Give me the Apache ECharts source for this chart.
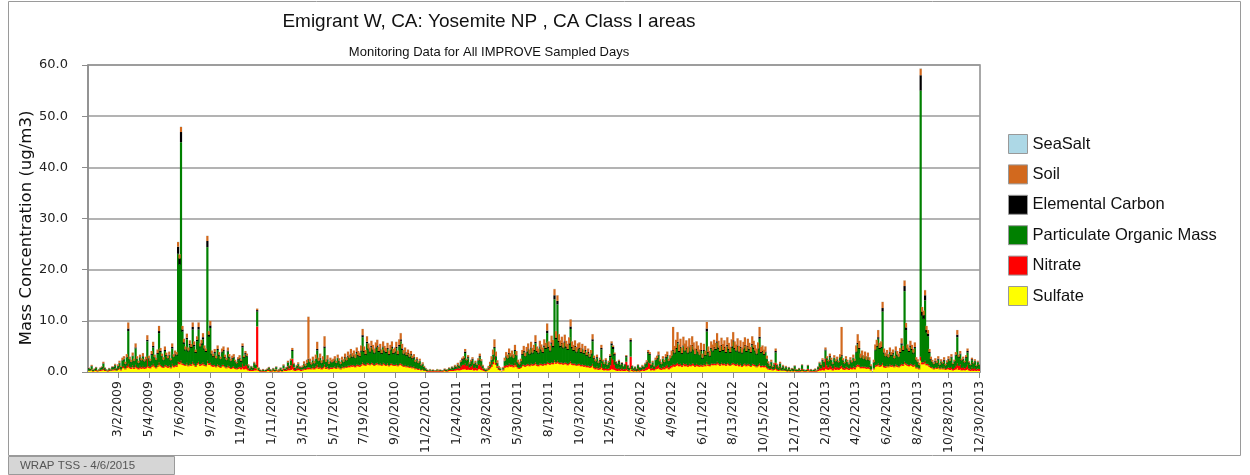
<!DOCTYPE html>
<html><head><meta charset="utf-8">
<script src="https://cdn.jsdelivr.net/npm/echarts@6/dist/echarts.min.js"></script>
<style>html,body{margin:0;padding:0;background:#fff}#c{width:1250px;height:475px}</style>
</head><body><div id="c"></div><script>
// IMPROVE samples every 3rd day, 1/1/2009 .. 12/30/2013
const tickLabels = ['3/2/2009','5/4/2009','7/6/2009','9/7/2009','11/9/2009','1/11/2010','3/15/2010','5/17/2010','7/19/2010','9/20/2010','11/22/2010','1/24/2011','3/28/2011','5/30/2011','8/1/2011','10/3/2011','12/5/2011','2/6/2012','4/9/2012','6/11/2012','8/13/2012','10/15/2012','12/17/2012','2/18/2013','4/22/2013','6/24/2013','8/26/2013','10/28/2013','12/30/2013'];
const yTicks = [0,10,20,30,40,50,60];

const sulfate = [
0.2,0.2,0.3,0.1,0.2,0.2,0.1,0.2,0.2,0.3,0.4,0.2,0.2,0.1,0.2,0.2,0.3,0.3,0.4,0.2,
0.4,0.6,0.3,0.7,0.8,0.5,0.8,1.0,0.7,0.6,0.9,0.6,0.9,0.7,0.5,0.8,0.6,0.8,0.6,0.7,1.0,
0.8,0.7,1.0,1.2,0.9,0.7,1.0,1.4,1.1,0.9,0.8,1.1,1.0,0.8,1.0,0.7,1.2,0.9,1.1,1.0,1.6,
1.5,1.8,1.4,1.3,1.2,1.5,1.1,1.3,1.2,1.6,1.3,1.0,1.4,1.6,1.2,1.3,1.5,1.2,1.1,1.7,1.4,
1.4,1.1,1.0,1.1,0.9,1.2,1.0,0.8,1.1,1.1,0.9,0.7,1.0,0.8,0.6,0.7,0.8,0.6,0.5,0.6,0.7,
0.5,0.7,0.5,0.6,0.5,0.3,0.2,0.2,0.2,0.3,0.3,0.9,0.2,0.1,0.1,0.1,0.1,0.1,0.2,0.2,0.1,
0.1,0.2,0.1,0.2,0.1,0.1,0.2,0.1,0.3,0.2,0.2,0.4,0.3,0.4,0.6,0.3,0.2,0.3,0.4,0.3,0.2,
0.3,0.5,0.4,0.6,0.5,0.6,0.5,0.7,0.5,0.7,0.9,0.6,0.8,0.5,0.7,1.0,0.6,0.7,0.5,0.6,0.6,
0.7,0.8,0.6,0.9,0.7,0.5,0.8,0.7,0.9,0.8,1.0,0.9,1.1,1.0,1.1,0.9,1.2,1.1,1.0,1.2,1.5,
1.3,1.2,1.5,1.4,1.3,1.5,1.4,1.2,1.4,1.5,1.3,1.4,1.2,1.5,1.3,1.2,1.4,1.1,1.3,1.4,1.2,
1.2,1.3,1.1,1.3,1.4,1.2,1.0,1.1,0.9,1.0,0.8,0.9,0.7,0.8,0.5,0.6,0.4,0.5,0.3,0.4,0.2,
0.2,0.1,0.1,0.1,0.1,0.1,0.1,0.1,0.1,0.1,0.1,0.1,0.1,0.2,0.1,0.1,0.2,0.2,0.2,0.2,0.3,
0.3,0.4,0.3,0.4,0.5,0.5,0.6,0.4,0.5,0.4,0.4,0.5,0.3,0.4,0.3,0.5,0.6,0.4,0.3,0.2,0.1,
0.2,0.4,0.7,1.0,1.5,2.4,1.4,0.8,0.4,0.3,0,0.3,0.8,1.0,0.9,1.2,1.0,1.1,0.9,1.3,1.0,
0.7,0.6,0.8,1.1,1.2,1.0,1.2,1.3,1.1,1.4,1.2,1.3,1.5,1.2,1.1,1.4,1.3,1.2,1.4,1.3,1.6,
1.5,1.4,1.6,1.5,1.9,1.6,1.8,1.6,1.5,1.6,1.4,1.6,1.5,1.3,1.5,1.7,1.4,1.3,1.4,1.2,1.3,
1.3,1.1,1.2,1.0,1.1,0.9,1.0,0.8,0.9,1.2,0.7,0.5,0.7,0.4,0.5,0.8,0.4,0.3,0.4,0.3,0.3,
0.4,0.6,0.5,0.4,0.3,0.2,0.3,0.2,0.3,0.2,0.2,0.4,0.2,0.1,0.6,0.2,0.1,0.2,0.1,0.2,0.1,
0.2,0.3,0.2,0.3,0.4,0.6,0.6,0.3,0.4,0.3,0.5,0.6,0.7,0.5,0.4,0.6,0.5,0.7,0.8,0.5,0.7,
0.9,1.1,1.0,1.2,1.3,1.1,1.2,1.0,1.3,1.1,1.2,1.0,1.2,1.1,1.3,1.2,1.0,1.2,1.1,1.0,1.2,
1.0,1.3,1.1,1.6,1.2,1.1,1.4,1.3,1.4,1.3,1.6,1.4,1.2,1.5,1.3,1.4,1.2,1.5,1.3,1.2,1.4,
1.5,1.3,1.2,1.4,1.1,1.3,1.0,1.2,1.4,1.1,1.3,1.2,1.0,1.3,1.2,1.1,0.9,1.1,1.3,0.9,1.0,
0.9,1.0,0.7,0.5,0.4,0.5,0.3,0.4,0.6,0.3,0.2,0.4,0.2,0.3,0.2,0.2,0.1,0.2,0.1,0.2,0.1,
0.2,0.1,0.1,0.1,0.1,0.2,0.1,0.1,0.1,0.2,0.1,0.1,0.1,0.1,0.1,0.1,0.2,0.3,0.3,0.4,0.3,
0.6,0.5,0.4,0.6,0.5,0.3,0.6,0.4,0.5,0.4,0.6,0.8,0.5,0.4,0.6,0.5,0.4,0.6,0.5,0.7,0.5,
0.9,1.1,1.0,0.7,0.8,0.7,0.8,0.6,0.7,0.6,0.3,0,0.5,1.0,1.1,1.3,1.0,1.1,1.4,0.9,0.8,
1.1,0.9,1.2,1.0,1.1,0.9,1.2,1.0,0.9,1.1,1.3,1.2,1.6,1.4,1.2,1.1,1.3,1.2,1.0,1.2,0.7,
0.7,0.5,2.2,1.5,1.5,1.7,1.3,1.3,1.0,0.8,0.7,0.5,0.7,0.6,0.8,0.5,0.7,0.5,0.7,0.4,0.6,
0.5,0.4,0.5,0.3,0.4,0.5,0.8,0.4,0.5,0.3,0.4,0.3,0.4,0.5,0.3,0.2,0.3,0.2,0.3,0.2,0.3,
0.2];

const nitrate = [
0.1,0.1,0.2,0.1,0.1,0.2,0.1,0.1,0.2,0.2,0.3,0.2,0.1,0.1,0.2,0.1,0.2,0.2,0.3,0.1,
0.2,0.3,0.2,0.3,0.4,0.2,0.4,0.6,0.3,0.3,0.4,0.3,0.5,0.3,0.3,0.4,0.3,0.4,0.3,0.3,1.6,
0.3,0.3,0.3,0.4,0.3,0.2,0.3,0.5,0.3,0.3,0.2,0.3,0.3,0.3,0.3,0.2,0.4,0.3,0.3,0.3,0.5,
0.4,0.5,0.3,0.3,0.2,0.3,0.2,0.3,0.3,0.4,0.3,0.2,0.3,0.4,0.3,0.3,0.4,0.3,0.2,0.5,0.3,
0.4,0.3,0.3,0.3,0.2,0.3,0.3,0.2,0.3,0.3,0.2,0.2,0.3,0.3,0.2,0.3,0.3,0.2,0.2,0.3,0.3,
0.4,0.9,0.6,0.8,0.7,0.4,0.2,0.3,0.2,0.5,0.4,8.0,0.2,0.1,0.1,0.1,0.1,0.1,0.2,0.3,0.1,
0.1,0.2,0.1,0.3,0.1,0.2,0.2,0.1,0.4,0.2,0.3,0.7,0.4,0.9,2.0,0.6,0.2,0.4,0.5,0.3,0.3,
0.2,0.3,0.2,0.3,0.4,0.3,0.2,0.4,0.3,0.4,0.6,0.3,0.4,0.3,0.3,0.5,0.3,0.4,0.2,0.3,0.3,
0.2,0.3,0.2,0.3,0.2,0.2,0.3,0.2,0.3,0.2,0.3,0.3,0.3,0.3,0.3,0.3,0.3,0.3,0.3,0.3,0.4,
0.3,0.2,0.3,0.3,0.2,0.3,0.3,0.2,0.3,0.3,0.2,0.3,0.2,0.3,0.3,0.2,0.3,0.2,0.3,0.3,0.2,
0.2,0.3,0.2,0.3,0.3,0.3,0.2,0.3,0.2,0.3,0.2,0.3,0.2,0.3,0.2,0.2,0.2,0.2,0.1,0.2,0.1,
0.2,0.1,0.1,0.2,0.1,0.1,0.1,0.1,0.2,0.1,0.1,0.1,0.1,0.2,0.1,0.2,0.2,0.2,0.3,0.2,0.3,
0.3,0.5,0.4,0.7,0.9,0.9,1.1,0.8,1.0,0.5,0.7,0.9,0.5,0.6,0.4,0.8,1.0,0.7,0.4,0.2,0.1,
0.1,0.2,0.3,0.4,0.5,0.6,0.4,0.3,0.2,0.1,0,0.2,0.4,0.4,0.4,0.5,0.4,0.4,0.4,0.5,0.4,
0.2,0.2,0.2,0.3,0.3,0.3,0.3,0.3,0.3,0.3,0.3,0.3,0.4,0.3,0.3,0.3,0.3,0.3,0.3,0.3,0.4,
0.3,0.3,0.3,0.3,0.4,0.3,0.4,0.3,0.3,0.3,0.3,0.3,0.3,0.3,0.3,0.4,0.3,0.3,0.3,0.2,0.3,
0.3,0.3,0.3,0.3,0.3,0.3,0.3,0.3,0.3,0.4,0.3,0.3,0.4,0.3,0.4,0.9,0.4,0.3,0.5,0.3,0.4,
0.9,2.2,1.9,1.0,0.5,0.4,0.6,0.3,0.5,0.3,0.4,1.6,0.3,0.2,2.4,0.3,0.2,0.3,0.1,0.4,0.2,
0.2,0.3,0.3,0.5,0.6,1.3,1.1,0.4,0.5,0.3,0.5,0.6,0.7,0.4,0.3,0.5,0.4,0.5,0.6,0.4,0.5,
0.4,0.5,0.4,0.4,0.5,0.4,0.4,0.3,0.4,0.4,0.4,0.3,0.4,0.3,0.4,0.4,0.3,0.4,0.3,0.3,0.3,
0.3,0.3,0.3,0.4,0.3,0.3,0.3,0.3,0.3,0.3,0.4,0.3,0.3,0.3,0.3,0.3,0.3,0.3,0.3,0.2,0.3,
0.3,0.3,0.3,0.3,0.3,0.3,0.2,0.3,0.3,0.3,0.3,0.3,0.2,0.3,0.3,0.3,0.2,0.3,0.4,0.3,0.3,
0.3,0.3,0.3,0.2,0.2,0.3,0.2,0.2,1.2,0.3,0.2,0.3,0.1,0.2,0.1,0.2,0.1,0.2,0.1,0.1,0.1,
0.3,0.1,0.1,0.2,0.1,0.4,0.1,0.1,0.1,0.4,0.1,0.1,0.1,0.1,0.2,0.1,0.3,0.6,0.4,0.8,0.6,
2.0,0.8,0.5,0.8,0.6,0.4,0.6,0.5,0.5,0.4,0.5,0.5,0.4,0.3,0.5,0.4,0.3,0.4,0.3,0.4,0.4,
0.4,0.4,0.4,0.3,0.3,0.3,0.3,0.3,0.3,0.3,0.2,0,0.2,0.3,0.3,0.4,0.3,0.3,0.4,0.3,0.3,
0.3,0.2,0.3,0.3,0.3,0.2,0.3,0.3,0.2,0.3,0.3,0.3,0.4,0.3,0.3,0.3,0.3,0.3,0.3,0.3,0.2,
0.2,0.2,0.8,0.4,0.4,0.5,0.3,0.3,0.3,0.2,0.2,0.2,0.2,0.2,0.3,0.2,0.2,0.2,0.3,0.2,0.2,
0.4,0.4,0.5,0.3,0.4,0.7,0.9,0.8,1.0,0.5,0.6,0.4,0.6,0.9,0.4,0.3,0.6,0.4,0.5,0.3,0.4,
0.4];

const pom = [
0.4,0.3,0.6,0.2,0.2,0.4,0.1,0.2,0.3,0.4,0.9,0.3,0.2,0.1,0.2,0.2,0.4,0.4,0.6,0.3,
0.5,0.8,0.5,1.2,1.3,0.8,1.6,6.4,1.4,1.0,1.8,1.2,3.2,1.5,0.9,1.6,1.3,1.8,1.1,1.4,3.4,
1.5,1.1,2.0,3.2,1.6,1.4,2.2,5.7,2.5,1.8,1.3,2.7,1.8,1.5,1.9,1.3,3.0,1.7,2.0,1.9,21.0,
19.1,42.6,6.2,3.9,2.8,4.6,2.7,3.6,3.2,6.3,3.4,2.5,4.3,6.3,3.3,3.7,4.5,2.9,2.6,22.2,5.2,
6.8,2.0,1.6,2.3,1.5,2.8,1.9,1.5,2.4,2.7,1.6,1.4,2.7,1.7,1.3,1.5,1.7,1.2,0.9,1.4,1.6,
1.1,3.2,1.6,2.0,1.8,0.5,0.2,0.5,0.3,0.9,0.6,2.9,0.3,0.2,0.1,0.2,0.1,0.2,0.1,0.3,0.2,
0.1,0.2,0.2,0.4,0.1,0.2,0.3,0.2,0.5,0.2,0.3,0.7,0.4,0.9,1.5,0.6,0.3,0.4,0.6,0.3,0.3,
0.4,0.7,0.5,0.8,1.5,1.0,0.7,1.1,0.8,1.4,2.7,1.2,1.4,0.9,1.3,3.2,1.0,1.3,0.8,1.2,0.9,
1.1,1.3,0.9,1.5,1.2,0.8,1.2,1.0,1.5,1.2,1.7,1.5,2.0,1.5,1.8,1.5,2.2,1.7,1.6,2.5,4.9,
2.3,1.9,3.8,2.7,2.3,3.0,2.5,2.2,2.9,3.1,2.4,2.7,2.1,3.0,2.4,2.3,2.8,2.0,2.6,3.0,2.1,
2.4,3.0,2.0,3.4,4.3,2.8,2.2,2.4,2.0,2.2,1.8,2.1,1.6,1.7,1.2,1.5,1.1,1.4,0.8,0.9,0.6,
0.2,0.2,0.1,0.2,0.1,0.1,0.1,0.1,0.2,0.1,0.1,0.1,0.1,0.1,0.2,0.2,0.3,0.2,0.4,0.3,0.5,
0.3,0.5,0.4,0.8,0.9,1.1,2.0,1.0,1.2,0.6,0.9,1.0,0.7,0.8,0.6,0.9,1.3,1.0,0.4,0.3,0.3,
0.2,0.2,0.4,0.9,1.3,1.7,1.2,0.6,0.2,0.3,0,0.2,0.9,1.6,1.3,1.8,1.5,1.8,1.4,2.3,1.8,
0.9,0.6,1.0,1.9,2.4,1.7,2.3,2.8,2.0,2.9,2.1,2.5,3.7,2.4,2.2,3.1,2.6,2.2,3.2,2.9,5.6,
2.8,2.3,3.6,3.0,11.9,4.5,11.0,3.9,3.0,3.5,2.9,3.8,2.9,2.7,3.5,6.3,2.9,2.5,3.1,2.4,2.8,
2.9,2.3,2.9,2.2,2.7,1.9,2.4,1.7,2.2,4.4,1.5,1.2,1.6,1.0,1.3,2.7,1.2,0.9,1.2,0.7,1.1,
1.6,2.4,2.1,1.8,0.9,0.9,1.1,0.8,0.8,0.5,0.8,0.9,0.7,0.4,2.9,0.6,0.3,0.4,0.3,0.7,0.5,
0.3,0.5,0.4,0.7,0.9,1.8,1.6,0.6,0.9,0.4,1.3,1.3,1.8,1.1,0.8,1.4,1.0,1.5,1.7,1.2,1.4,
1.8,2.5,2.2,2.9,3.8,2.4,3.1,2.2,3.3,2.5,2.9,2.3,3.2,2.4,3.3,2.6,2.1,2.7,2.4,2.0,2.6,
1.3,2.5,1.7,5.9,2.2,1.6,2.8,2.4,2.9,2.7,3.7,2.8,2.4,3.2,2.5,2.9,2.2,3.2,2.7,2.3,3.0,
4.1,2.8,2.5,3.2,2.4,3.0,2.4,2.9,3.3,2.5,3.2,2.8,2.5,3.6,3.0,2.6,2.3,3.0,4.8,2.5,2.6,
2.1,2.5,1.5,0.9,0.5,1.1,0.4,0.8,2.0,0.7,0.4,0.9,0.4,0.6,0.4,0.5,0.3,0.4,0.2,0.3,0.3,
0.6,0.3,0.2,0.3,0.2,0.7,0.3,0.1,0.2,0.6,0.1,0.2,0.1,0.2,0.2,0.1,0.4,0.8,0.6,1.0,1.0,
1.6,1.3,1.1,1.5,1.2,0.8,1.5,1.1,1.4,1.0,1.7,1.8,1.3,0.9,1.4,1.0,0.7,1.3,1.0,1.6,1.2,
2.5,3.9,3.1,1.7,2.1,1.5,1.9,1.4,1.9,1.3,0.6,0,1.1,2.9,3.5,4.8,3.2,3.3,10.0,2.4,1.9,
2.0,1.7,2.3,1.8,2.1,1.5,2.5,1.9,1.8,2.3,3.7,2.6,13.8,6.5,2.9,2.5,3.3,2.8,2.3,3.2,1.4,
1.0,0.6,52.0,9.1,8.5,11.8,6.1,5.4,2.4,1.3,1.0,0.8,1.1,0.9,1.3,0.6,1.1,0.9,1.2,0.6,1.0,
1.5,1.3,1.8,0.9,1.2,2.0,5.1,1.6,1.9,1.4,1.4,1.1,1.7,2.4,1.1,0.8,1.4,1.0,1.3,0.6,1.2,
0.7];

const elementalCarbon = [
0.1,0.0,0.1,0.0,0.1,0.1,0.0,0.0,0.1,0.1,0.1,0.1,0.0,0.0,0.1,0.0,0.1,0.1,0.1,0.1,
0.1,0.1,0.0,0.1,0.1,0.1,0.1,0.5,0.1,0.1,0.1,0.1,0.2,0.1,0.1,0.1,0.1,0.1,0.1,0.1,0.3,
0.1,0.1,0.2,0.3,0.1,0.1,0.2,0.4,0.2,0.1,0.1,0.2,0.2,0.1,0.2,0.1,0.3,0.1,0.2,0.2,1.4,
1.2,2.0,0.4,0.3,0.2,0.3,0.2,0.3,0.2,0.5,0.3,0.2,0.3,0.5,0.2,0.3,0.4,0.2,0.2,1.2,0.4,
0.5,0.2,0.2,0.2,0.1,0.2,0.2,0.1,0.2,0.2,0.2,0.1,0.2,0.2,0.1,0.2,0.2,0.1,0.1,0.2,0.2,
0.2,0.3,0.2,0.3,0.2,0.1,0.1,0.1,0.1,0.1,0.1,0.3,0.1,0.0,0.0,0.1,0.0,0.0,0.1,0.1,0.1,
0.0,0.1,0.0,0.1,0.0,0.0,0.1,0.0,0.1,0.0,0.1,0.1,0.1,0.1,0.2,0.1,0.1,0.1,0.1,0.1,0.1,
0.1,0.1,0.1,0.1,0.2,0.1,0.1,0.1,0.1,0.1,0.3,0.1,0.2,0.1,0.1,0.3,0.1,0.1,0.1,0.1,0.1,
0.1,0.1,0.1,0.1,0.1,0.1,0.1,0.1,0.2,0.1,0.2,0.1,0.2,0.2,0.2,0.1,0.2,0.2,0.2,0.2,0.4,
0.2,0.2,0.3,0.2,0.2,0.3,0.2,0.2,0.2,0.3,0.2,0.2,0.2,0.2,0.2,0.2,0.2,0.2,0.2,0.3,0.2,
0.2,0.3,0.2,0.3,0.4,0.3,0.2,0.2,0.2,0.2,0.2,0.2,0.2,0.2,0.1,0.2,0.1,0.1,0.1,0.1,0.1,
0.1,0.0,0.0,0.0,0.0,0.1,0.0,0.0,0.0,0.0,0.1,0.0,0.0,0.1,0.0,0.0,0.1,0.0,0.1,0.1,0.1,
0.1,0.1,0.1,0.1,0.2,0.2,0.3,0.1,0.2,0.1,0.1,0.2,0.1,0.1,0.1,0.1,0.2,0.1,0.1,0.0,0.0,
0.0,0.1,0.1,0.1,0.1,0.2,0.1,0.1,0.1,0.0,0,0.1,0.1,0.1,0.1,0.2,0.1,0.1,0.1,0.2,0.1,
0.1,0.1,0.1,0.2,0.2,0.1,0.2,0.2,0.2,0.2,0.2,0.2,0.3,0.2,0.2,0.2,0.2,0.2,0.3,0.2,0.5,
0.3,0.2,0.3,0.3,0.8,0.3,0.7,0.3,0.3,0.3,0.2,0.3,0.3,0.2,0.3,0.5,0.3,0.2,0.3,0.2,0.2,
0.3,0.2,0.2,0.2,0.2,0.2,0.2,0.2,0.2,0.4,0.2,0.1,0.2,0.1,0.2,0.3,0.1,0.1,0.2,0.1,0.1,
0.3,0.4,0.4,0.3,0.2,0.1,0.2,0.1,0.2,0.1,0.1,0.2,0.1,0.1,0.4,0.1,0.1,0.1,0.1,0.1,0.1,
0.1,0.1,0.1,0.1,0.1,0.2,0.2,0.1,0.1,0.1,0.1,0.2,0.2,0.1,0.1,0.1,0.1,0.2,0.2,0.1,0.1,
0.1,0.2,0.2,0.2,0.3,0.2,0.2,0.2,0.2,0.2,0.2,0.2,0.2,0.2,0.3,0.2,0.1,0.2,0.2,0.1,0.2,
0.2,0.2,0.2,0.6,0.2,0.2,0.2,0.2,0.3,0.2,0.3,0.3,0.2,0.3,0.2,0.3,0.2,0.3,0.2,0.2,0.3,
0.3,0.3,0.2,0.3,0.2,0.3,0.2,0.2,0.3,0.2,0.3,0.2,0.2,0.3,0.3,0.2,0.2,0.2,0.4,0.2,0.2,
0.2,0.2,0.1,0.1,0.1,0.1,0.1,0.1,0.3,0.1,0.1,0.1,0.1,0.1,0.0,0.1,0.0,0.1,0.0,0.1,0.1,
0.1,0.0,0.0,0.1,0.0,0.1,0.0,0.0,0.0,0.1,0.0,0.1,0.0,0.0,0.1,0.0,0.1,0.1,0.1,0.2,0.1,
0.2,0.1,0.1,0.2,0.1,0.1,0.1,0.1,0.1,0.1,0.1,0.2,0.1,0.1,0.1,0.1,0.1,0.1,0.1,0.1,0.1,
0.2,0.3,0.2,0.1,0.1,0.1,0.1,0.1,0.1,0.1,0.1,0,0.1,0.2,0.2,0.3,0.2,0.2,0.7,0.2,0.1,
0.2,0.1,0.2,0.2,0.2,0.1,0.2,0.2,0.1,0.2,0.3,0.2,1.0,0.5,0.2,0.2,0.3,0.2,0.2,0.2,0.1,
0.1,0.1,3.0,0.8,0.7,1.0,0.5,0.5,0.2,0.2,0.1,0.1,0.2,0.1,0.2,0.1,0.1,0.1,0.2,0.1,0.1,
0.2,0.1,0.2,0.1,0.1,0.2,0.5,0.2,0.2,0.1,0.2,0.1,0.2,0.3,0.1,0.1,0.2,0.1,0.1,0.1,0.1,
0.1];

const soil = [
0.1,0.1,0.2,0.1,0.1,0.1,0.1,0.1,0.1,0.1,0.3,0.1,0.1,0.1,0.1,0.1,0.1,0.1,0.2,0.1,
0.3,0.4,0.2,0.5,0.5,0.4,0.6,1.2,0.5,0.4,0.6,0.4,0.8,0.5,0.4,0.5,0.4,0.6,0.4,0.5,0.9,
0.5,0.4,0.6,0.8,0.5,0.4,0.7,1.0,0.6,0.5,0.5,0.7,0.5,0.5,0.6,0.4,0.7,0.5,0.6,0.5,0.9,
0.8,1.0,0.7,0.7,0.6,0.8,0.6,0.7,0.6,0.9,0.7,0.5,0.7,0.9,0.6,0.7,0.8,0.6,0.5,1.0,0.7,
0.9,0.6,0.5,0.6,0.5,0.7,0.5,0.4,0.6,0.7,0.5,0.4,0.6,0.5,0.4,0.5,0.5,0.3,0.3,0.4,0.5,
0.3,0.5,0.3,0.4,0.4,0.2,0.1,0.1,0.1,0.2,0.2,0.3,0.1,0.1,0.1,0.1,0.0,0.1,0.1,0.1,0.1,
0.1,0.1,0.1,0.1,0.1,0.1,0.1,0.1,0.2,0.1,0.1,0.3,0.1,0.3,0.4,0.2,0.1,0.2,0.3,0.2,0.1,
0.3,0.5,0.4,0.6,8.2,0.6,0.4,0.7,0.5,0.8,1.4,0.6,0.8,0.5,0.7,2.0,0.5,0.8,0.4,0.6,0.5,
0.5,0.6,0.4,0.6,0.5,0.4,0.6,0.5,0.7,0.6,0.8,0.6,0.9,0.7,0.8,0.7,0.9,0.8,0.7,1.0,1.2,
0.9,0.8,1.1,1.0,0.8,1.0,0.9,0.8,1.0,1.1,0.8,0.9,0.7,1.0,0.9,0.8,1.0,0.7,0.9,1.0,0.8,
0.8,1.0,0.7,1.1,1.2,0.9,0.7,0.8,0.6,0.7,0.6,0.6,0.5,0.5,0.4,0.4,0.3,0.4,0.2,0.3,0.2,
0.1,0.1,0.1,0.1,0.0,0.1,0.1,0.0,0.1,0.1,0.1,0.0,0.1,0.1,0.1,0.1,0.1,0.1,0.1,0.1,0.2,
0.2,0.3,0.2,0.3,0.3,0.4,0.5,0.3,0.4,0.3,0.3,0.3,0.2,0.3,0.2,0.4,0.5,0.3,0.2,0.1,0.1,
0.2,0.3,0.5,0.7,1.0,1.5,0.9,0.5,0.3,0.2,0,0.2,0.6,0.8,0.7,0.9,0.7,0.8,0.7,1.0,0.8,
0.5,0.4,0.5,0.8,1.0,0.7,0.9,1.0,0.8,1.1,0.9,1.0,1.3,0.9,0.8,1.1,1.0,0.9,1.2,1.0,1.4,
1.1,1.0,1.3,1.2,1.2,1.3,1.1,1.3,1.1,1.2,1.0,1.3,1.1,1.0,1.2,1.4,1.1,1.0,1.1,0.9,1.0,
1.0,0.8,0.9,0.7,0.8,0.6,0.7,0.6,0.7,1.0,0.5,0.4,0.5,0.3,0.4,0.6,0.3,0.3,0.4,0.2,0.3,
0.3,0.4,0.3,0.3,0.2,0.1,0.2,0.1,0.1,0.1,0.1,0.2,0.1,0.1,0.3,0.1,0.1,0.1,0.1,0.1,0.1,
0.1,0.2,0.1,0.2,0.3,0.4,0.4,0.2,0.3,0.2,0.4,0.5,0.6,0.4,0.3,0.5,0.4,0.6,0.7,0.4,0.6,
1.0,4.5,1.3,1.6,1.9,1.3,1.6,1.1,1.7,1.4,1.5,1.2,1.6,1.3,1.7,1.4,1.1,1.5,1.2,1.0,1.4,
0.8,1.2,0.9,1.3,1.1,0.9,1.3,1.2,1.4,1.2,1.6,1.3,1.1,1.4,1.2,1.3,1.1,1.5,1.2,1.0,1.4,
1.6,1.3,1.2,1.4,1.1,1.3,1.0,1.3,1.5,1.1,1.4,1.2,1.0,1.5,1.3,1.1,1.0,1.2,1.9,1.0,1.1,
0.9,1.0,0.6,0.4,0.3,0.4,0.2,0.3,0.5,0.2,0.2,0.3,0.1,0.2,0.1,0.2,0.1,0.1,0.1,0.1,0.1,
0.1,0.1,0.1,0.1,0.0,0.1,0.1,0.0,0.1,0.1,0.1,0.1,0.0,0.1,0.1,0.1,0.1,0.2,0.2,0.3,0.2,
0.4,0.4,0.3,0.5,0.4,0.3,0.5,0.4,0.5,0.3,0.6,5.5,0.4,0.3,0.5,0.4,0.3,0.5,0.4,0.6,0.4,
1.2,1.7,1.4,0.8,0.9,0.7,0.9,0.7,0.8,0.6,0.3,0,0.5,1.0,1.2,1.4,1.0,1.1,1.2,0.8,0.7,
0.7,0.6,0.8,0.6,0.7,0.5,0.8,0.7,0.6,0.8,1.0,0.8,1.1,0.9,0.8,0.7,0.9,0.8,0.7,0.9,0.5,
0.5,0.4,1.3,0.9,0.9,1.0,0.8,0.7,0.6,0.5,0.4,0.3,0.5,0.4,0.5,0.3,0.4,0.3,0.5,0.3,0.4,
0.5,0.4,0.5,0.2,0.3,0.5,0.9,0.4,0.5,0.3,0.4,0.3,0.4,0.5,0.2,0.2,0.3,0.2,0.3,0.2,0.2,
0.1];

const seaSalt = [
0.02,0.01,0.02,0.01,0.01,0.02,0.01,0.01,0.02,0.02,0.03,0.01,0.01,0.01,0.02,0.01,0.02,0.02,0.03,0.01,
0.02,0.03,0.01,0.03,0.02,0.02,0.03,0.05,0.02,0.02,0.03,0.02,0.04,0.02,0.02,0.03,0.02,0.03,0.02,0.02,0.04,
0.03,0.02,0.03,0.04,0.02,0.02,0.03,0.05,0.03,0.02,0.02,0.03,0.03,0.02,0.03,0.02,0.04,0.02,0.03,0.03,0.06,
0.05,0.08,0.03,0.03,0.02,0.03,0.02,0.03,0.02,0.04,0.03,0.02,0.03,0.04,0.02,0.03,0.03,0.02,0.02,0.06,0.03,
0.04,0.02,0.02,0.03,0.02,0.03,0.02,0.02,0.03,0.03,0.02,0.02,0.03,0.02,0.02,0.02,0.03,0.01,0.01,0.02,0.02,
0.02,0.03,0.02,0.02,0.02,0.01,0.01,0.01,0.01,0.02,0.01,0.04,0.01,0.01,0.00,0.01,0.00,0.01,0.01,0.01,0.01,
0.01,0.01,0.01,0.01,0.01,0.01,0.01,0.01,0.02,0.01,0.01,0.02,0.01,0.02,0.03,0.02,0.01,0.01,0.02,0.01,0.01,
0.01,0.02,0.01,0.02,0.06,0.02,0.02,0.03,0.02,0.03,0.04,0.02,0.03,0.02,0.02,0.04,0.02,0.03,0.02,0.02,0.02,
0.02,0.03,0.02,0.03,0.02,0.02,0.03,0.02,0.03,0.02,0.03,0.03,0.04,0.03,0.03,0.03,0.04,0.03,0.03,0.04,0.05,
0.03,0.03,0.04,0.03,0.03,0.04,0.03,0.03,0.03,0.04,0.03,0.03,0.02,0.04,0.03,0.03,0.03,0.02,0.03,0.04,0.02,
0.03,0.04,0.03,0.04,0.05,0.03,0.03,0.03,0.02,0.03,0.02,0.03,0.02,0.02,0.02,0.02,0.01,0.02,0.01,0.01,0.01,
0.01,0.01,0.00,0.01,0.00,0.01,0.01,0.00,0.01,0.01,0.01,0.00,0.01,0.01,0.01,0.01,0.01,0.01,0.02,0.01,0.02,
0.01,0.02,0.01,0.02,0.02,0.02,0.03,0.02,0.02,0.01,0.02,0.02,0.01,0.02,0.01,0.02,0.03,0.02,0.01,0.01,0.01,
0.01,0.01,0.02,0.03,0.04,0.05,0.03,0.02,0.01,0.01,0,0.01,0.02,0.03,0.03,0.03,0.03,0.03,0.02,0.04,0.03,
0.02,0.01,0.02,0.03,0.03,0.02,0.03,0.04,0.03,0.04,0.03,0.03,0.05,0.03,0.03,0.04,0.03,0.03,0.04,0.04,0.06,
0.04,0.03,0.04,0.04,0.07,0.04,0.06,0.04,0.04,0.04,0.03,0.04,0.04,0.03,0.04,0.05,0.04,0.03,0.04,0.03,0.03,
0.04,0.03,0.03,0.03,0.03,0.02,0.03,0.02,0.03,0.04,0.02,0.02,0.02,0.01,0.02,0.03,0.01,0.01,0.02,0.01,0.01,
0.02,0.03,0.03,0.02,0.01,0.01,0.01,0.01,0.01,0.01,0.01,0.02,0.01,0.01,0.03,0.01,0.01,0.01,0.01,0.01,0.01,
0.01,0.01,0.01,0.01,0.02,0.03,0.03,0.01,0.02,0.01,0.02,0.02,0.03,0.02,0.01,0.02,0.02,0.02,0.03,0.02,0.02,
0.02,0.05,0.03,0.03,0.04,0.03,0.03,0.02,0.03,0.03,0.03,0.02,0.03,0.03,0.04,0.03,0.02,0.03,0.03,0.02,0.03,
0.02,0.03,0.02,0.05,0.03,0.02,0.03,0.03,0.03,0.03,0.04,0.03,0.03,0.04,0.03,0.03,0.03,0.04,0.03,0.02,0.03,
0.04,0.03,0.03,0.03,0.03,0.03,0.02,0.03,0.04,0.03,0.03,0.03,0.02,0.04,0.03,0.03,0.02,0.03,0.05,0.02,0.03,
0.02,0.03,0.02,0.01,0.01,0.01,0.01,0.01,0.02,0.01,0.01,0.01,0.01,0.01,0.01,0.01,0.00,0.01,0.00,0.01,0.01,
0.01,0.01,0.00,0.01,0.00,0.01,0.01,0.00,0.01,0.01,0.00,0.01,0.00,0.01,0.01,0.00,0.01,0.01,0.01,0.02,0.01,
0.03,0.02,0.01,0.02,0.02,0.01,0.02,0.01,0.02,0.01,0.02,0.04,0.02,0.01,0.02,0.01,0.01,0.02,0.01,0.02,0.02,
0.03,0.04,0.03,0.02,0.02,0.02,0.02,0.02,0.02,0.02,0.01,0,0.01,0.03,0.03,0.04,0.03,0.03,0.05,0.02,0.02,
0.02,0.02,0.03,0.02,0.02,0.02,0.03,0.02,0.02,0.02,0.03,0.03,0.06,0.04,0.03,0.02,0.03,0.03,0.02,0.03,0.01,
0.02,0.01,0.10,0.05,0.04,0.06,0.04,0.03,0.02,0.02,0.02,0.01,0.02,0.01,0.02,0.01,0.02,0.01,0.02,0.01,0.02,
0.02,0.02,0.02,0.01,0.02,0.02,0.04,0.02,0.02,0.01,0.02,0.01,0.02,0.03,0.01,0.01,0.02,0.01,0.01,0.01,0.01,
0.01];

// sample dates (every third day from 1/1/2009)
const categories = [];
const t0 = Date.UTC(2009, 0, 1);
for (let i = 0; i < pom.length; i++) {
  const d = new Date(t0 + i * 3 * 86400000);
  categories.push((d.getUTCMonth() + 1) + '/' + d.getUTCDate() + '/' + d.getUTCFullYear());
}
const tickSet = new Set(tickLabels);
const showTick = (idx, val) => tickSet.has(val);

const AR = 'Liberation Sans';
const DV = 'DejaVu Sans';
const chart = echarts.init(document.getElementById('c'), null, {renderer: 'canvas'});

function bar(name, data, color) {
  return {name, type: 'bar', stack: 'total', data, barWidth: 2.2,
    itemStyle: {color}, emphasis: {disabled: true}, silent: true};
}

chart.setOption({
  animation: false,
  backgroundColor: '#ffffff',
  title: [
    {text: 'Emigrant W, CA: Yosemite NP , CA Class I areas', left: 489, top: 12, textAlign: 'center', padding: 0,
     textStyle: {fontFamily: AR, fontSize: 19, fontWeight: 'normal', color: '#111'}},
    {text: 'Monitoring Data for All IMPROVE Sampled Days', left: 489, top: 46, textAlign: 'center', padding: 0,
     textStyle: {fontFamily: AR, fontSize: 13, fontWeight: 'normal', color: '#111'}}
  ],
  legend: {
    orient: 'vertical', left: 1008, top: 134, padding: 0,
    itemWidth: 19, itemHeight: 19, itemGap: 10.4, icon: 'rect',
    itemStyle: {borderColor: '#999', borderWidth: 1},
    textStyle: {fontFamily: AR, fontSize: 16.5, color: '#111'},
    selectedMode: false,
    data: ['SeaSalt', 'Soil', 'Elemental Carbon', 'Particulate Organic Mass', 'Nitrate', 'Sulfate']
  },
  grid: {left: 88, right: 270, top: 65, bottom: 103, show: true, borderColor: '#8c8c8c', borderWidth: 1.5, containLabel: false},
  xAxis: {
    type: 'category', data: categories, boundaryGap: true,
    axisLine: {show: true, lineStyle: {color: '#8c8c8c', width: 1.5}},
    axisTick: {show: true, interval: showTick, alignWithLabel: true, length: 6, lineStyle: {color: '#8c8c8c'}},
    axisLabel: {interval: showTick, rotate: 90, margin: 9, fontFamily: DV, fontSize: 12.5, color: '#222'},
    splitLine: {show: false}
  },
  yAxis: {
    type: 'value', min: yTicks[0], max: yTicks[yTicks.length - 1], interval: 10,
    axisLine: {show: true, lineStyle: {color: '#8c8c8c', width: 1.5}},
    axisTick: {show: true, length: 6, lineStyle: {color: '#8c8c8c'}},
    axisLabel: {formatter: v => v.toFixed(1), margin: 20, fontFamily: DV, fontSize: 13, color: '#222'},
    splitLine: {show: true, lineStyle: {color: '#9a9a9a', width: 1.5}}
  },
  series: [
    bar('Sulfate', sulfate, '#ffff00'),
    bar('Nitrate', nitrate, '#ff0000'),
    bar('Particulate Organic Mass', pom, '#008000'),
    bar('Elemental Carbon', elementalCarbon, '#000000'),
    bar('Soil', soil, '#d2691e'),
    bar('SeaSalt', seaSalt, '#add8e6')
  ],
  graphic: [
    {type: 'rect', shape: {x: 8.5, y: 1.5, width: 1232, height: 454}, style: {fill: 'none', stroke: '#9a9a9a', lineWidth: 1}, silent: true},
    {type: 'text', x: 27, y: 228, rotation: Math.PI / 2,
     style: {text: 'Mass Concentration (ug/m3)', font: '16.5px "DejaVu Sans"', fill: '#111', align: 'center', verticalAlign: 'middle', textAlign: 'center', textVerticalAlign: 'middle'}, silent: true},
    {type: 'rect', shape: {x: 8.5, y: 456.5, width: 166, height: 18}, style: {fill: '#d6d6d6', stroke: '#9a9a9a', lineWidth: 1}, silent: true},
    {type: 'text', x: 20, y: 466, style: {text: 'WRAP TSS - 4/6/2015', font: '11.5px "Liberation Sans"', fill: '#555', verticalAlign: 'middle', textVerticalAlign: 'middle'}, silent: true}
  ]
});
</script></body></html>
